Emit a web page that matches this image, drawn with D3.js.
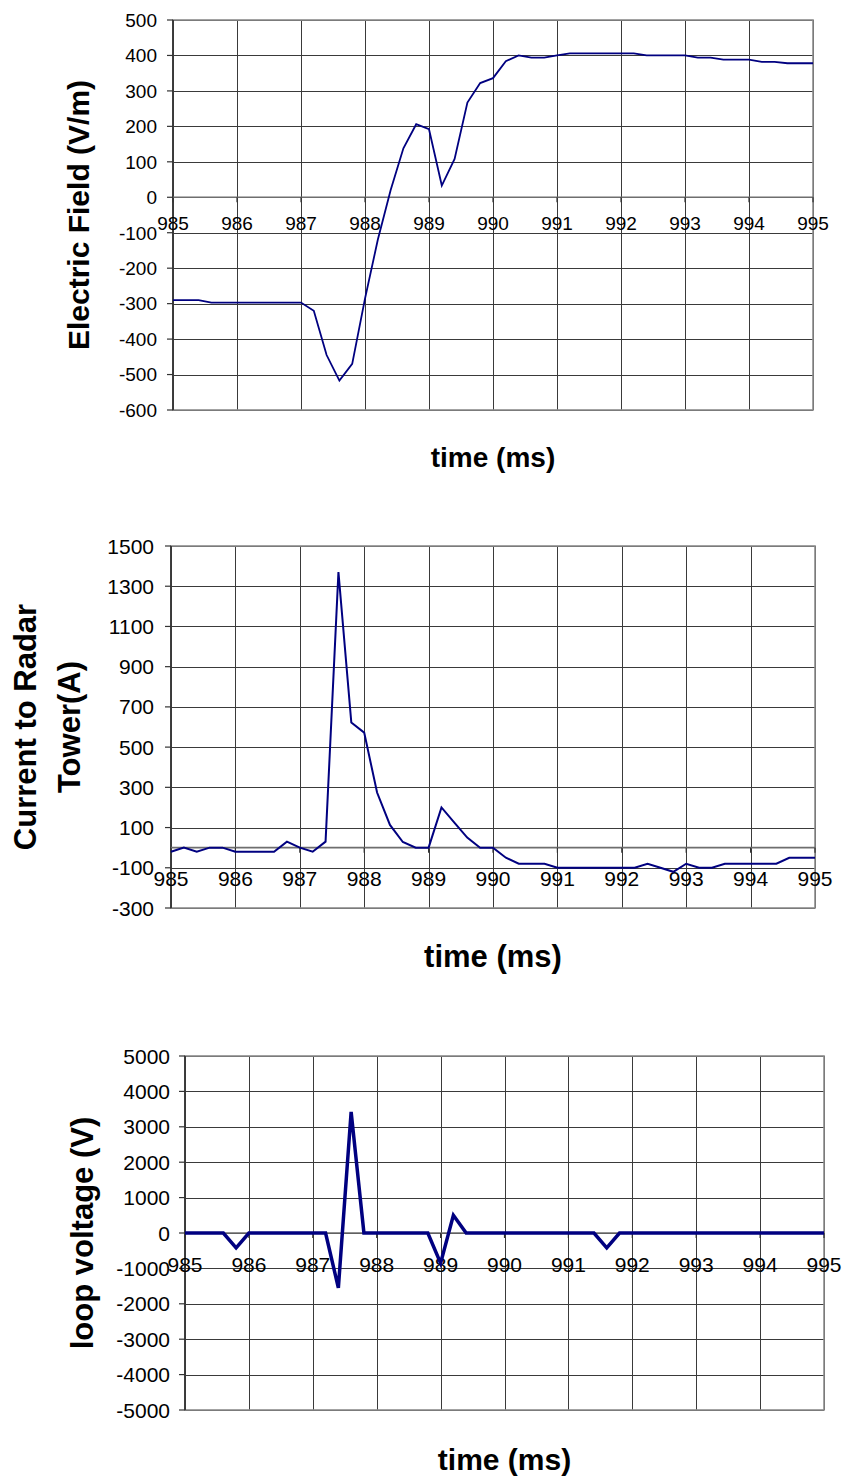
<!DOCTYPE html>
<html>
<head>
<meta charset="utf-8">
<script src="https://cdn.jsdelivr.net/npm/d3@7"></script>
<style>
  body { margin: 0; background: #fff; }
  svg { display: block; font-family: "Liberation Sans", Arial, sans-serif; }
</style>
</head>
<body>
<script>
const timeMs = [
  985.0, 985.2, 985.4, 985.6, 985.8, 986.0, 986.2, 986.4, 986.6, 986.8,
  987.0, 987.2, 987.4, 987.6, 987.8, 988.0, 988.2, 988.4, 988.6, 988.8,
  989.0, 989.2, 989.4, 989.6, 989.8, 990.0, 990.2, 990.4, 990.6, 990.8,
  991.0, 991.2, 991.4, 991.6, 991.8, 992.0, 992.2, 992.4, 992.6, 992.8,
  993.0, 993.2, 993.4, 993.6, 993.8, 994.0, 994.2, 994.4, 994.6, 994.8,
  995.0
];

const electricField = [
  -290, -290, -290, -297, -297, -297, -297, -297, -297, -297,
  -297, -320, -445, -517, -470, -286, -120, 20, 138, 206,
  192, 33, 108, 267, 322, 336, 384, 400, 394, 394,
  400, 406, 406, 406, 406, 406, 406, 400, 400, 400,
  400, 394, 394, 388, 388, 388, 382, 382, 378, 378,
  378
];

const towerCurrent = [
  -20, 0, -20, 0, 0, -20, -20, -20, -20, 30,
  0, -20, 30, 1370, 622, 572, 274, 113, 28, 0,
  0, 200, 125, 50, 0, 0, -50, -80, -80, -80,
  -100, -100, -100, -100, -100, -100, -100, -80, -100, -120,
  -80, -100, -100, -80, -80, -80, -80, -80, -50, -50,
  -50
];

const loopVoltage = [
  0, 0, 0, 0, -420, 0, 0, 0, 0, 0,
  0, 0, -1550, 3420, 0, 0, 0, 0, 0, 0,
  -850, 500, 0, 0, 0, 0, 0, 0, 0, 0,
  0, 0, 0, -420, 0, 0, 0, 0, 0, 0,
  0, 0, 0, 0, 0, 0, 0, 0, 0, 0,
  0
];

const xTicks = [985, 986, 987, 988, 989, 990, 991, 992, 993, 994, 995];
const efieldTicks = [-600, -500, -400, -300, -200, -100, 0, 100, 200, 300, 400, 500];
const currentTicks = [-300, -100, 100, 300, 500, 700, 900, 1100, 1300, 1500];
const voltageTicks = [-5000, -4000, -3000, -2000, -1000, 0, 1000, 2000, 3000, 4000, 5000];

const xTitle = "time (ms)";

// Setup SVG
const svg = d3.select("body").append("svg")
  .attr("width", 845)
  .attr("height", 1478);

const panels = [
  {
    values: electricField, yTicks: efieldTicks, yDomain: [-600, 500],
    left: 173, right: 813, top: 20, bottom: 410,
    tickFont: 19, xLabelDrop: 33, labelGap: 16,
    yTitle: ["Electric Field (V/m)"], yTitleX: [89], yTitleFont: 30,
    xTitleY: 467, xTitleFont: 28, lineWidth: 1.8
  },
  {
    values: towerCurrent, yTicks: currentTicks, yDomain: [-300, 1500],
    left: 171, right: 815, top: 546, bottom: 908,
    tickFont: 21, xLabelDrop: 38, labelGap: 17,
    yTitle: ["Current to Radar", "Tower(A)"], yTitleX: [36, 80], yTitleFont: 31,
    xTitleY: 967, xTitleFont: 31, lineWidth: 2
  },
  {
    values: loopVoltage, yTicks: voltageTicks, yDomain: [-5000, 5000],
    left: 185, right: 824, top: 1056, bottom: 1410,
    tickFont: 21, xLabelDrop: 39, labelGap: 15,
    yTitle: ["loop voltage (V)"], yTitleX: [93], yTitleFont: 31,
    xTitleY: 1470, xTitleFont: 30, lineWidth: 3.5
  }
];

panels.forEach(drawPanel);

function drawPanel(p) {
  const x = d3.scaleLinear().domain([985, 995]).range([p.left, p.right]);
  const y = d3.scaleLinear().domain(p.yDomain).range([p.bottom, p.top]);
  const g = svg.append("g");
  const y0 = y(0);

  // grid
  g.append("g")
    .selectAll("line")
    .data(p.yTicks)
    .enter()
    .append("line")
    .attr("x1", p.left)
    .attr("x2", p.right)
    .attr("y1", (d) => Math.round(y(d)) + 0.5)
    .attr("y2", (d) => Math.round(y(d)) + 0.5)
    .attr("stroke", "#3a3a3a")
    .attr("stroke-width", 1);

  g.append("g")
    .selectAll("line")
    .data(xTicks)
    .enter()
    .append("line")
    .attr("x1", (d) => Math.round(x(d)) + 0.5)
    .attr("x2", (d) => Math.round(x(d)) + 0.5)
    .attr("y1", p.top)
    .attr("y2", p.bottom)
    .attr("stroke", "#3a3a3a")
    .attr("stroke-width", 1);

  // plot border
  g.append("rect")
    .attr("x", p.left)
    .attr("y", p.top)
    .attr("width", p.right - p.left)
    .attr("height", p.bottom - p.top)
    .attr("fill", "none")
    .attr("stroke", "#8c8c8c")
    .attr("stroke-width", 1.6);

  // y axis line + ticks + labels
  g.append("line")
    .attr("x1", p.left)
    .attr("x2", p.left)
    .attr("y1", p.top)
    .attr("y2", p.bottom)
    .attr("stroke", "#333")
    .attr("stroke-width", 1.8);

  g.append("g")
    .selectAll("line")
    .data(p.yTicks)
    .enter()
    .append("line")
    .attr("x1", p.left - 6)
    .attr("x2", p.left)
    .attr("y1", (d) => y(d))
    .attr("y2", (d) => y(d))
    .attr("stroke", "#333")
    .attr("stroke-width", 1.2);

  g.append("g")
    .selectAll("text")
    .data(p.yTicks)
    .enter()
    .append("text")
    .attr("x", p.left - p.labelGap)
    .attr("y", (d) => y(d))
    .attr("dy", "0.36em")
    .attr("text-anchor", "end")
    .attr("font-size", p.tickFont)
    .attr("fill", "#000")
    .text((d) => d);

  // x axis at zero
  g.append("line")
    .attr("x1", p.left)
    .attr("x2", p.right)
    .attr("y1", y0)
    .attr("y2", y0)
    .attr("stroke", "#6e6e6e")
    .attr("stroke-width", 1.6);

  g.append("g")
    .selectAll("line")
    .data(xTicks)
    .enter()
    .append("line")
    .attr("x1", (d) => x(d))
    .attr("x2", (d) => x(d))
    .attr("y1", y0)
    .attr("y2", y0 + 5)
    .attr("stroke", "#333")
    .attr("stroke-width", 1.2);

  g.append("g")
    .selectAll("text")
    .data(xTicks)
    .enter()
    .append("text")
    .attr("x", (d) => x(d))
    .attr("y", y0 + p.xLabelDrop)
    .attr("text-anchor", "middle")
    .attr("font-size", p.tickFont)
    .attr("fill", "#000")
    .text((d) => d);

  // series
  const line = d3
    .line()
    .x((d, i) => x(timeMs[i]))
    .y((d) => y(d));

  g.append("path")
    .datum(p.values)
    .attr("d", line)
    .attr("fill", "none")
    .attr("stroke", "#000080")
    .attr("stroke-width", p.lineWidth)
    .attr("stroke-linejoin", "miter");

  // titles
  const cy = (p.top + p.bottom) / 2;
  p.yTitle.forEach((t, i) => {
    g.append("text")
      .attr("transform", `translate(${p.yTitleX[i]},${cy}) rotate(-90)`)
      .attr("text-anchor", "middle")
      .attr("font-size", p.yTitleFont)
      .attr("font-weight", "bold")
      .text(t);
  });

  g.append("text")
    .attr("x", (p.left + p.right) / 2)
    .attr("y", p.xTitleY)
    .attr("text-anchor", "middle")
    .attr("font-size", p.xTitleFont)
    .attr("font-weight", "bold")
    .text(xTitle);
}
</script>
</body>
</html>
